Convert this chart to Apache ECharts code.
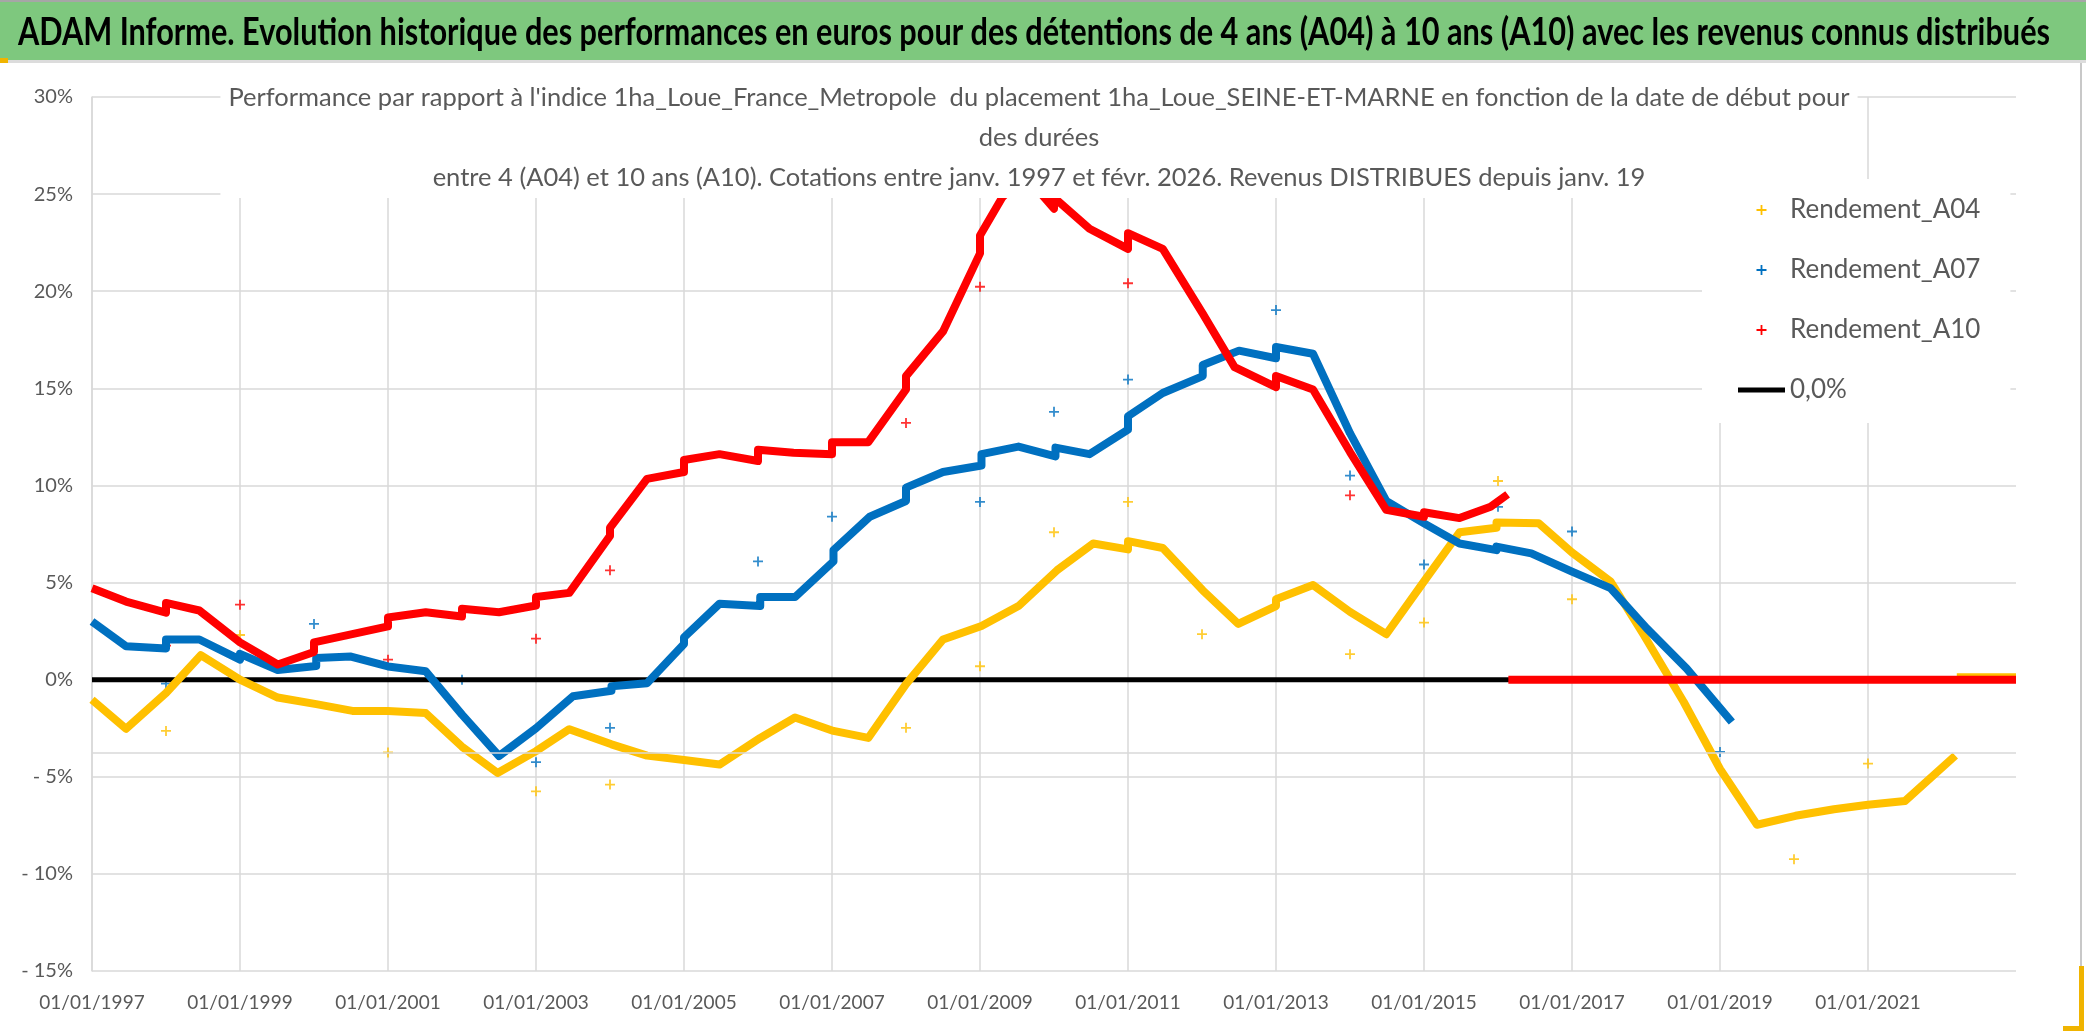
<!DOCTYPE html>
<html>
<head>
<meta charset="utf-8">
<script src="https://cdn.jsdelivr.net/npm/echarts@6/dist/echarts.min.js"></script>
<style>
html,body{margin:0;padding:0;background:#fff;}
#chart{width:2086px;height:1031px;}
</style>
</head>
<body>
<div id="chart"></div>
<script>
// ---------- texts ----------
const mainTitle = "ADAM Informe. Evolution historique des performances en euros pour des détentions de 4 ans (A04) à 10 ans (A10) avec les revenus connus distribués";
const subTitle = "Performance par rapport à l'indice 1ha_Loue_France_Metropole  du placement 1ha_Loue_SEINE-ET-MARNE en fonction de la date de début pour\ndes durées\nentre 4 (A04) et 10 ans (A10). Cotations entre janv. 1997 et févr. 2026. Revenus DISTRIBUES depuis janv. 19";
const seriesNames = ["Rendement_A04", "Rendement_A07", "Rendement_A10", "0,0%"];

// ---------- axis ticks ----------
const BASE_YEAR = 1997;
const xTickLabels = ["01/01/1997","01/01/1999","01/01/2001","01/01/2003","01/01/2005","01/01/2007","01/01/2009","01/01/2011","01/01/2013","01/01/2015","01/01/2017","01/01/2019","01/01/2021",""];
const yTickValues = [-15,-10,-5,0,5,10,15,20,25,30];
const yTickLabels = ["- 15%","- 10%","- 5%","0%","5%","10%","15%","20%","25%","30%"];
const extraGridValue = [-3.75];

// ---------- Rendement_A04 (main band, date as decimal year, value in %) ----------
const a04Years = [1997.00,1997.46,1998.00,1998.47,1999.00,1999.51,2000.03,2000.52,2001.00,2001.51,2002.00,2002.48,2003.00,2003.45,2004.02,2004.50,2005.00,2005.48,2006.03,2006.50,2007.02,2007.49,2008.00,2008.50,2009.02,2009.52,2010.04,2010.53,2011.00,2011.00,2011.47,2012.01,2012.49,2013.00,2013.00,2013.50,2014.00,2014.49,2015.00,2015.48,2015.98,2015.98,2016.55,2017.00,2017.52,2017.97,2018.51,2019.00,2019.50,2020.02,2020.54,2021.00,2021.50,2022.18,2022.19,2022.20,2023.00];
const a04Values = [-1.03,-2.53,-0.69,1.26,0.00,-0.92,-1.26,-1.61,-1.61,-1.72,-3.45,-4.80,-3.68,-2.55,-3.33,-3.91,-4.14,-4.37,-3.00,-1.95,-2.64,-3.00,-0.23,2.07,2.76,3.79,5.63,7.01,6.71,7.13,6.78,4.60,2.87,3.79,4.14,4.87,3.49,2.34,5.06,7.59,7.82,8.09,8.05,6.55,5.06,2.30,-1.15,-4.60,-7.47,-7.01,-6.67,-6.44,-6.25,-3.91,null,0.12,0.12];
const a04OutYears = [1998,1999,2001,2003,2004,2008,2009,2010,2011,2012,2014,2015,2016,2017,2020,2021];
const a04OutValues = [-2.64,2.30,-3.75,-5.75,-5.40,-2.48,0.69,7.59,9.15,2.34,1.31,2.94,10.23,4.14,-9.24,-4.32];

// ---------- Rendement_A07 ----------
const a07Years = [1997.00,1997.46,1998.00,1998.00,1998.45,1999.00,1999.00,1999.51,2000.03,2000.03,2000.50,2001.00,2001.51,2002.00,2002.50,2003.00,2003.50,2004.02,2004.02,2004.50,2005.00,2005.00,2005.48,2006.03,2006.03,2006.50,2007.02,2007.02,2007.51,2008.00,2008.00,2008.50,2009.02,2009.02,2009.52,2010.02,2010.02,2010.48,2011.00,2011.00,2011.47,2012.01,2012.01,2012.50,2013.00,2013.00,2013.50,2014.00,2014.49,2015.00,2015.48,2015.98,2015.98,2016.45,2017.00,2017.52,2018.01,2018.55,2019.16];
const a07Values = [2.99,1.72,1.61,2.07,2.07,1.03,1.33,0.50,0.70,1.12,1.19,0.68,0.43,-1.80,-3.93,-2.50,-0.85,-0.57,-0.34,-0.18,1.84,2.18,3.91,3.79,4.25,4.25,6.09,6.67,8.39,9.20,9.89,10.69,11.03,11.61,12.00,11.50,11.95,11.61,12.87,13.56,14.76,15.63,16.20,16.94,16.55,17.13,16.78,12.69,9.20,8.05,7.01,6.67,6.85,6.50,5.56,4.71,2.64,0.57,-2.18];
const a07OutYears = [1998,2000,2002,2003,2004,2006,2007,2009,2010,2011,2013,2014,2015,2016,2017,2019];
const a07OutValues = [-0.20,2.87,0.00,-4.25,-2.48,6.09,8.39,9.15,13.79,15.45,19.03,10.51,5.93,8.90,7.63,-3.72];

// ---------- Rendement_A10 ----------
const a10Years = [1997.00,1997.46,1998.00,1998.00,1998.45,1999.00,1999.51,2000.00,2000.00,2001.00,2001.00,2001.51,2002.00,2002.00,2002.50,2003.00,2003.00,2003.45,2004.00,2004.00,2004.50,2005.00,2005.00,2005.48,2006.00,2006.00,2006.48,2007.00,2007.00,2007.49,2008.00,2008.00,2008.50,2009.00,2009.00,2009.30,2009.60,2010.00,2010.00,2010.48,2011.00,2011.00,2011.47,2012.01,2012.44,2013.00,2013.00,2013.50,2014.00,2014.49,2015.00,2015.00,2015.48,2015.90,2016.13,2016.135,2016.14,2023.00];
const a10Values = [4.71,4.02,3.45,3.95,3.56,1.92,0.78,1.42,1.92,2.74,3.20,3.47,3.25,3.65,3.47,3.82,4.26,4.47,7.40,7.82,10.34,10.69,11.31,11.61,11.26,11.84,11.68,11.61,12.23,12.23,14.94,15.63,17.93,21.95,22.87,24.83,26.00,24.25,24.83,23.22,22.18,22.99,22.18,18.85,16.09,15.06,15.63,14.94,11.72,8.74,8.39,8.62,8.32,8.90,9.54,null,0.00,0.00];
const a10OutYears = [1998,1999,2001,2003,2004,2008,2009,2011,2014];
const a10OutValues = [1.75,3.86,1.03,2.11,5.63,13.22,20.23,20.41,9.49];

// ---------- 0,0% reference ----------
const zeroYears = [1997.00, 2023.00];
const zeroValues = [0, 0];

const colors = {a04: "#FFC000", a07: "#0070C0", a10: "#FF0000", zero: "#000000"};
const FONT = "Lato, 'Open Sans', sans-serif";
const PLUS = "path://M0,4.1H10V5.9H0Z M4.1,0H5.9V10H4.1Z";
const LINE_ICON = "path://M0,0H47V5H0Z";

function pts(years, values) {
  return years.map((y, i) => [y - BASE_YEAR, values[i] === null ? '-' : values[i]]);
}
function band(name, years, values, color) {
  return {
    name: name, type: 'line', data: pts(years, values),
    symbol: 'none', showSymbol: false, connectNulls: false,
    lineStyle: {color: color, width: 8, cap: 'butt', join: 'round'},
    itemStyle: {color: color}, silent: true, animation: false
  };
}
function outliers(name, years, values, color) {
  return {
    name: name, type: 'scatter', data: pts(years, values),
    symbol: PLUS, symbolSize: 10, itemStyle: {color: color}, silent: true, animation: false
  };
}

// fit the banner title (condensed bold look) to its measured width in the reference
const TITLE_FONT = "bold 38px Lato, 'Open Sans', sans-serif";
const TITLE_WIDTH = 2032;
const measureCtx = document.createElement('canvas').getContext('2d');
measureCtx.font = TITLE_FONT;
const titleScale = TITLE_WIDTH / measureCtx.measureText(mainTitle).width;

const chart = echarts.init(document.getElementById('chart'), null, {renderer: 'canvas'});
chart.setOption({
  animation: false,
  backgroundColor: '#ffffff',
  graphic: [
    {type: 'rect', left: 0, top: 0, shape: {width: 2086, height: 60}, style: {fill: '#7ec87e'}, z: -10},
    {type: 'rect', left: 0, top: 0, shape: {width: 2086, height: 2}, style: {fill: '#a6a6a6'}, z: -9},
    {type: 'rect', left: 0, top: 60, shape: {width: 2086, height: 3}, style: {fill: '#dcdcdc'}, z: -9},
    {type: 'rect', left: 0, top: 58, shape: {width: 8, height: 5}, style: {fill: '#f0b400'}, z: -8},
    {type: 'rect', left: 2080, top: 63, shape: {width: 2, height: 968}, style: {fill: '#c8c8c8'}, z: -9},
    {type: 'rect', left: 2079, top: 966, shape: {width: 5, height: 65}, style: {fill: '#f0b400'}, z: -8},
    {type: 'rect', left: 2063, top: 1026, shape: {width: 21, height: 5}, style: {fill: '#f0b400'}, z: -8},
    {
      type: 'text', x: 1034, y: 33, scaleX: titleScale, scaleY: 1, z: 10,
      style: {text: mainTitle, font: TITLE_FONT, fill: '#000000', textAlign: 'center', textVerticalAlign: 'middle'}
    }
  ],
  title: {
    text: subTitle, left: 1031, top: 78, padding: [0, 8, 0, 8], textAlign: 'center',
    backgroundColor: '#ffffff',
    textStyle: {fontSize: 25.5, fontWeight: 'normal', color: '#595959', lineHeight: 40, fontFamily: FONT}
  },
  legend: {
    left: 1702, top: 179, orient: 'vertical',
    padding: [18, 30, 20, 36], itemGap: 34, itemWidth: 47, itemHeight: 10,
    backgroundColor: '#ffffff',
    textStyle: {fontSize: 26, color: '#595959', fontFamily: FONT, lineHeight: 26},
    data: [
      {name: seriesNames[0], icon: PLUS},
      {name: seriesNames[1], icon: PLUS},
      {name: seriesNames[2], icon: PLUS},
      {name: seriesNames[3], icon: LINE_ICON}
    ],
    selectedMode: false
  },
  grid: {left: 92, right: 70, top: 97, bottom: 60, containLabel: false},
  xAxis: {
    type: 'value', min: 0, max: 26, interval: 2,
    axisLine: {show: false}, axisTick: {show: false},
    axisLabel: {
      color: '#595959', fontSize: 19, fontFamily: FONT, margin: 22, showMaxLabel: false,
      formatter: v => xTickLabels[Math.round(v / 2)]
    },
    splitLine: {show: true, showMaxLine: false, lineStyle: {color: '#d9d9d9', width: 1.5}}
  },
  yAxis: {
    type: 'value', min: -15, max: 30, interval: 5,
    axisLine: {show: true, lineStyle: {color: '#d9d9d9', width: 1.5}}, axisTick: {show: false},
    axisLabel: {
      color: '#595959', fontSize: 20, fontFamily: FONT, margin: 19,
      formatter: v => yTickLabels[yTickValues.indexOf(Math.round(v))]
    },
    splitLine: {show: true, lineStyle: {color: '#d9d9d9', width: 1.5}}
  },
  series: [
    {
      name: seriesNames[3], type: 'line', data: pts(zeroYears, zeroValues),
      symbol: 'none', showSymbol: false, lineStyle: {color: colors.zero, width: 5},
      itemStyle: {color: colors.zero}, silent: true,
      markLine: {
        silent: true, symbol: 'none', label: {show: false},
        lineStyle: {color: '#d9d9d9', type: 'solid', width: 1.5},
        data: extraGridValue.map(v => ({yAxis: v}))
      }
    },
    band(seriesNames[0], a04Years, a04Values, colors.a04),
    outliers(seriesNames[0], a04OutYears, a04OutValues, colors.a04),
    band(seriesNames[1], a07Years, a07Values, colors.a07),
    outliers(seriesNames[1], a07OutYears, a07OutValues, colors.a07),
    band(seriesNames[2], a10Years, a10Values, colors.a10),
    outliers(seriesNames[2], a10OutYears, a10OutValues, colors.a10)
  ]
});
</script>
</body>
</html>
